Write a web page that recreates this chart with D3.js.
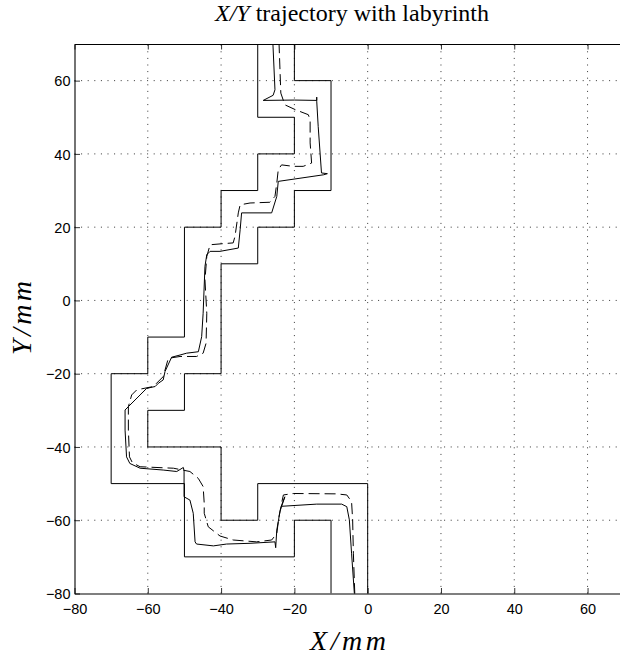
<!DOCTYPE html>
<html><head><meta charset="utf-8">
<script src="https://cdn.jsdelivr.net/npm/d3@7"></script>
<style>html,body{margin:0;padding:0;background:#fff;}svg{display:block;}</style>
</head><body>
<svg id="chart" width="620" height="658"></svg>
<script>
const xTicks = [-80, -60, -40, -20, 0, 20, 40, 60];
const yTicks = [-80, -60, -40, -20, 0, 20, 40, 60];
const xDomain = [-80, 70];
const yDomain = [-80, 70];

const wallLeft = [[-30,70],[-30,50],[-20,50],[-20,40],[-30,40],[-30,30],[-40,30],[-40,20],[-50,20],[-50,-10],[-60,-10],[-60,-20],[-70,-20],[-70,-50],[-50,-50],[-50,-70],[-20,-70],[-20,-60],[-10,-60],[-10,-80]];
const wallRight = [[-20,70],[-20,60],[-10,60],[-10,30],[-20,30],[-20,20],[-30,20],[-30,10],[-40,10],[-40,-20],[-50,-20],[-50,-30],[-60,-30],[-60,-40],[-40,-40],[-40,-60],[-30,-60],[-30,-50],[0,-50],[0,-80]];

const solidPath = [[-25.9,71],[-25.3,57.5],[-25.8,56],[-28.5,54.6],[-20,54.7],[-13.9,54.6],[-13.9,55.5],[-13.9,54.4],[-13.5,47.5],[-12.6,34.8],[-11,34.6],[-12,34.3],[-24.4,32.5],[-24.8,28.4],[-26.2,23.9],[-34.4,23.9],[-34.8,19.3],[-35.3,14.3],[-40.3,13.4],[-43,13.4],[-43.9,12.5],[-44.4,9.3],[-44.9,-3.5],[-45.3,-9.9],[-46.2,-14],[-49.4,-14.4],[-51.2,-14.9],[-53.5,-15.5],[-55.3,-19.4],[-55.8,-21.7],[-57.1,-22.6],[-58,-23.5],[-60.3,-24],[-65.3,-29],[-66.2,-29.9],[-66.2,-35.4],[-65.8,-42.7],[-64.9,-44.5],[-62.1,-45.8],[-55.8,-46.3],[-52.1,-46.7],[-50.3,-45.6],[-50.1,-46.5],[-50.1,-53.6],[-48.5,-54.5],[-47.6,-58.1],[-47.1,-65.9],[-46.7,-66.5],[-42.1,-67],[-38.5,-66.5],[-32.1,-66.3],[-25.3,-65.9],[-25.1,-67.5],[-24.8,-62.7],[-23.9,-57.5],[-22.6,-53.6],[-23.6,-56.2],[-13.9,-55.6],[-7.1,-55.6],[-5.7,-56.3],[-5,-59.9],[-4.4,-69],[-3.6,-80.5]];

const dashedPath = [[-24.2,70.5],[-23.7,56.6],[-22.6,53.4],[-19.8,52.1],[-16.2,50.7],[-15.7,49.3],[-15.7,43],[-15.3,37.5],[-17.6,36.6],[-20.3,36.6],[-23.5,37],[-24.4,35.7],[-24.8,32],[-25.3,28.4],[-26.7,26.8],[-32.1,26.6],[-34.8,26.1],[-35.3,23.9],[-36.2,17.5],[-36.7,15.7],[-39.4,15.5],[-43,15.2],[-43.9,12],[-44.4,5.6],[-43.9,-3.5],[-44.1,-11.7],[-44.9,-14.4],[-46.7,-15.3],[-51.2,-15.3],[-54.4,-15.8],[-55.8,-20.8],[-58.5,-23.5],[-63,-24.4],[-64.4,-25.8],[-65.3,-29],[-65.3,-35.4],[-65,-42.7],[-64.2,-44.3],[-62.1,-45.4],[-53,-45.8],[-48.5,-46.7],[-46.2,-48.6],[-44.9,-50.8],[-44.6,-55.4],[-44.6,-58.1],[-43.5,-61.8],[-40.3,-64.3],[-36.7,-65.4],[-30.3,-65.9],[-26.2,-65.4],[-24.8,-63.6],[-24.2,-59],[-23.5,-55.4],[-23,-53.1],[-20.3,-52.7],[-8.5,-52.8],[-5.7,-53.1],[-4.4,-54.9],[-4.1,-59.9],[-3.9,-69],[-3.5,-80.5]];

const titleItalic = "X/Y";
const titleRest = " trajectory with labyrinth";
const xLabel = "X/mm";
const yLabel = "Y/mm";

const svg = d3.select("#chart");
const L = 74.5, T = 44, B = 593.5, R = 624.2;
const x = d3.scaleLinear().domain(xDomain).range([L, R]);
const y = d3.scaleLinear().domain(yDomain).range([B, T]);

svg.append("defs").append("clipPath").attr("id","clip")
  .append("rect").attr("x", L).attr("y", T).attr("width", R - L).attr("height", B - T);

const fmt = d => (d < 0 ? "\u2212" + Math.abs(d) : String(d));

// grid
const grid = svg.append("g").attr("stroke", "#000").attr("stroke-width", 0.8).attr("stroke-dasharray", "1,5.6");
grid.selectAll(".gx").data(xTicks.filter(d => d > xDomain[0])).join("line")
  .attr("x1", d => x(d)).attr("x2", d => x(d)).attr("y1", B).attr("y2", T);
grid.selectAll(".gy").data(yTicks.filter(d => d > yDomain[0])).join("line")
  .attr("x1", L).attr("x2", R).attr("y1", d => y(d)).attr("y2", d => y(d));

// axes
const xAxisB = d3.axisBottom(x).tickValues(xTicks).tickSizeInner(-5.5).tickSizeOuter(0).tickPadding(10).tickFormat(fmt);
const xAxisT = d3.axisTop(x).tickValues(xTicks).tickSizeInner(-5.5).tickSizeOuter(0).tickFormat("");
const yAxisL = d3.axisLeft(y).tickValues(yTicks).tickSizeInner(-5.5).tickSizeOuter(0).tickPadding(10).tickFormat(fmt);

function style(g) {
  g.select(".domain").attr("stroke", "#000").attr("stroke-width", 1.1);
  g.selectAll(".tick line").attr("stroke", "#000").attr("stroke-width", 0.8);
  g.selectAll("text").attr("font-family", "'Liberation Sans', Arial, sans-serif").attr("font-size", 14.5).attr("fill", "#000");
}
svg.append("g").attr("transform", `translate(0,${B})`).call(xAxisB).call(style)
  .selectAll("text").attr("dy", null).attr("y", 20);
svg.append("g").attr("transform", `translate(0,${T})`).call(xAxisT).call(style);
svg.append("g").attr("transform", `translate(${L},0)`).call(yAxisL).call(style)
  .selectAll("text").attr("x", -4).attr("dy", "0.36em");

const line = d3.line().x(d => x(d[0])).y(d => y(d[1]));
const plot = svg.append("g").attr("clip-path", "url(#clip)").attr("fill", "none");
plot.append("path").datum(wallLeft).attr("d", line).attr("stroke", "#000").attr("stroke-width", 1);
plot.append("path").datum(wallRight).attr("d", line).attr("stroke", "#000").attr("stroke-width", 1);
plot.append("path").datum(solidPath).attr("d", line).attr("stroke", "#000").attr("stroke-width", 1);
plot.append("path").datum(dashedPath).attr("d", line).attr("stroke", "#000").attr("stroke-width", 1).attr("stroke-dasharray", "11,5");

const serif = "'Liberation Serif', 'Times New Roman', serif";
// title
const title = svg.append("text").attr("x", 352).attr("y", 21).attr("text-anchor", "middle")
  .attr("font-family", serif).attr("font-size", 24);
title.append("tspan").attr("font-style", "italic").text(titleItalic);
title.append("tspan").text(titleRest);

svg.append("text").attr("x", 348).attr("y", 650).attr("text-anchor", "middle")
  .attr("font-family", serif).attr("font-style", "italic")
  .attr("font-size", 28).attr("textLength", 76).attr("lengthAdjust", "spacing").text(xLabel);

svg.append("text").attr("transform", "translate(31,318) rotate(-90)").attr("text-anchor", "middle")
  .attr("font-family", serif).attr("font-style", "italic")
  .attr("font-size", 28).attr("textLength", 74).attr("lengthAdjust", "spacing").text(yLabel);
</script>
</body></html>
